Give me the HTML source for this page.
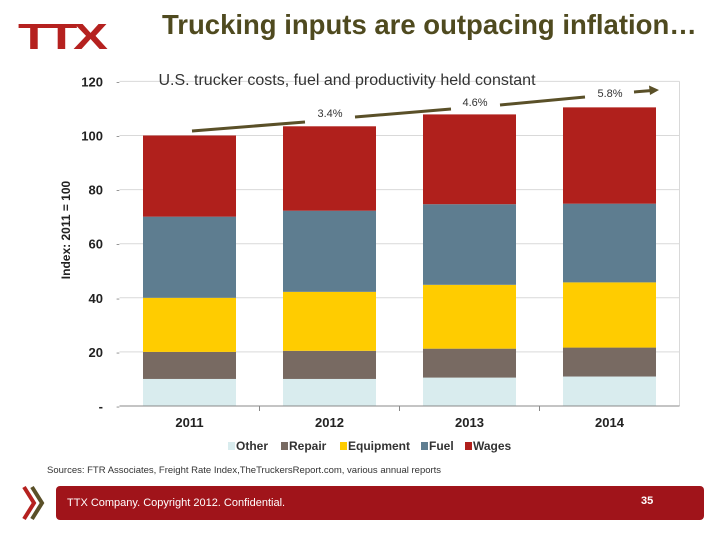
<!DOCTYPE html>
<html><head><meta charset="utf-8"><style>
body{margin:0;width:720px;height:540px;background:#fff;position:relative;overflow:hidden;font-family:"Liberation Sans",Arial,sans-serif}
.abs{position:absolute}
</style></head><body>
<div class="abs" style="left:18px;top:16px;font:bold 36px 'Liberation Sans',sans-serif;color:#b5211f;letter-spacing:-3px;transform:scaleX(1.45);transform-origin:left">TTX</div>
<div class="abs" style="left:162px;top:9px;font:bold 27.5px 'Liberation Sans',sans-serif;color:#4f4a1f;white-space:nowrap">Trucking inputs are outpacing inflation…</div>
<svg class="abs" style="left:0;top:0" width="720" height="540">
<g id="grid"></g><g id="bars"></g><g id="axes"></g>
<text x="347" y="85" font-size="16" fill="#333" text-anchor="middle">U.S. trucker costs, fuel and productivity held constant</text>
<text transform="translate(70,230) rotate(-90)" font-size="12" font-weight="bold" fill="#222" text-anchor="middle">Index: 2011 = 100</text>
<g stroke="#5a5028" stroke-width="3" fill="none">
<line x1="192" y1="131" x2="305" y2="122"/><line x1="355" y1="117" x2="451" y2="109"/><line x1="500" y1="105" x2="585" y2="97"/><line x1="634" y1="92" x2="652" y2="90.5"/>
</g>
<polygon points="659,90 649,85.5 650,95" fill="#5a5028"/>
<text x="330" y="117" font-size="11" fill="#333" text-anchor="middle">3.4%</text>
<text x="475" y="106" font-size="11" fill="#333" text-anchor="middle">4.6%</text>
<text x="610" y="97" font-size="11" fill="#333" text-anchor="middle">5.8%</text>
<g id="legend"></g>
</svg>
<div class="abs" style="left:47px;top:465px;font-size:9.5px;color:#333;white-space:nowrap">Sources: FTR Associates, Freight Rate Index,TheTruckersReport.com, various annual reports</div>
<svg class="abs" style="left:20px;top:485px" width="32" height="38">
<polyline points="4,2 14,18 4,34" stroke="#b5211f" stroke-width="4" fill="none"/>
<polyline points="12,2 22,18 12,34" stroke="#5a5028" stroke-width="4" fill="none"/>
</svg>
<div class="abs" style="left:56px;top:486px;width:648px;height:34px;background:#a0141a;border-radius:4px"></div>
<div class="abs" style="left:67px;top:497px;font-size:11px;color:#fff">TTX Company. Copyright 2012. Confidential.</div>
<div class="abs" style="left:641px;top:495px;font-size:11px;font-weight:bold;color:#fff">35</div>
<script>
const categories=["2011","2012","2013","2014"];
const seriesNames=["Other","Repair","Equipment","Fuel","Wages"];
const other=[10,10,10.5,10.9];
const repair=[10,10.4,10.7,10.7];
const equipment=[20,21.8,23.6,24.1];
const fuel=[30,30,29.8,29.1];
const wages=[30,31.2,33.2,35.6];
const yTicks=[0,20,40,60,80,100,120];
const yTickLabels=["-","20","40","60","80","100","120"];
const series=[other,repair,equipment,fuel,wages];
const colors=["#d9ecee","#786a62","#ffcc00","#5e7d90","#b0201c"];
const NS="http://www.w3.org/2000/svg";
const x0=119.5,x1=679.5,yBase=406,pxPer=2.705;
const y=v=>yBase-v*pxPer;
const bw=(x1-x0)/categories.length;
const xc=i=>x0+bw*(i+0.5);
function mk(t,a,p){const e=document.createElementNS(NS,t);for(const k in a)e.setAttribute(k,a[k]);p.appendChild(e);return e;}
const grid=document.getElementById('grid'),bars=document.getElementById('bars'),axes=document.getElementById('axes'),legend=document.getElementById('legend');
yTicks.forEach((t,i)=>{
 if(t>0){const l=mk('line',{x1:x0,x2:x1,y1:y(t),y2:y(t),stroke:'#d9d9d9','stroke-width':1},grid);
 
 }
 const tx=mk('text',{x:103,y:y(t)+5,'font-size':13,'font-weight':'bold','text-anchor':'end',fill:'#222'},axes);
 tx.textContent=yTickLabels[i];
 
 
 const tk=mk('text',{x:118,y:y(t)+4,'font-size':11,'text-anchor':'middle',fill:'#888'},axes);tk.textContent='-';
 
 
});
const rb=mk('line',{x1:x1,x2:x1,y1:y(120),y2:yBase,stroke:'#d9d9d9'},grid);


categories.forEach((c,i)=>{
 let cum=0;
 series.forEach((s,j)=>{
  const v=s[i];
  const r=mk('rect',{x:xc(i)-46.5,width:93,y:y(cum+v),height:v*pxPer,fill:colors[j]},bars);
  
  
  cum+=v;
 });
 const t=mk('text',{x:xc(i),y:427,'font-size':13,'font-weight':'bold','text-anchor':'middle',fill:'#222'},axes);t.textContent=c;
 
 
 if(i>0){const tk=mk('line',{x1:x0+bw*i,x2:x0+bw*i,y1:yBase,y2:yBase+5,stroke:'#888'},axes);
 
 }
});
const ax=mk('line',{x1:x0,x2:x1,y1:yBase,y2:yBase,stroke:'#888'},axes);


const lx=[228,281,340,421,465];
seriesNames.forEach((n,j)=>{
 const g=mk('g',{},legend);
 
 
 mk('rect',{x:lx[j],y:442,width:7,height:8,fill:colors[j]},g);
 const t=mk('text',{x:lx[j]+8,y:450,'font-size':12,'font-weight':'bold',fill:'#333'},g);t.textContent=n;
});
</script>
</body></html>
